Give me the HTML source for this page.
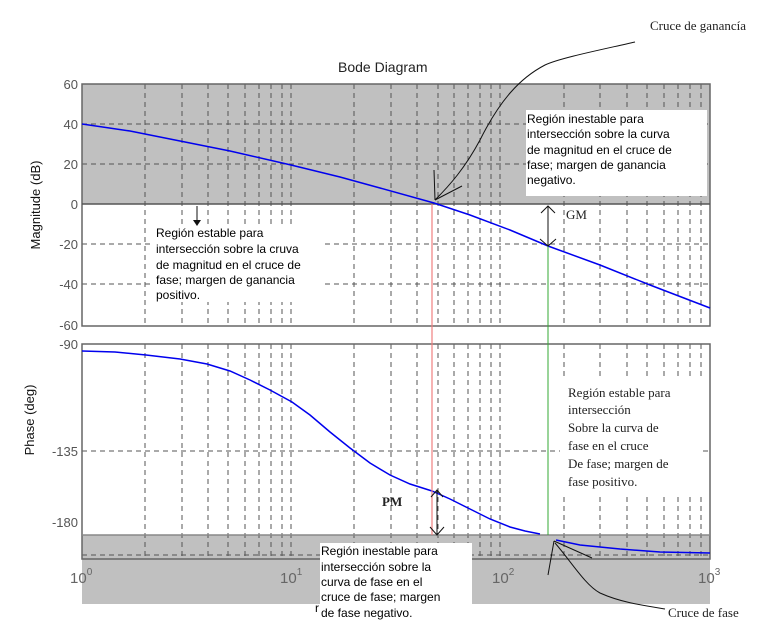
<!DOCTYPE html>
<html><head><meta charset="utf-8"><style>
html,body{margin:0;padding:0;background:#fff;width:775px;height:632px;overflow:hidden}
svg{display:block}
.t{font-family:"Liberation Sans",sans-serif;fill:#555;font-size:13px}
.b{font-family:"Liberation Sans",sans-serif;fill:#000;font-size:12px}
.s{font-family:"Liberation Serif",serif;fill:#222;font-size:13px}
</style></head><body>
<svg width="775" height="632" viewBox="0 0 775 632" xmlns="http://www.w3.org/2000/svg">
<rect x="82" y="84" width="628" height="120" fill="#c0c0c0"/>
<rect x="82" y="204" width="628" height="122" fill="#fff"/>
<g stroke="#555" stroke-width="1" stroke-dasharray="5,4" fill="none">
<path d="M82 124H710M82 164H710M82 244H710M82 284H710"/>
<path d="M145 84V326M182 84V326M208 84V326M228 84V326M245 84V326M259 84V326M271 84V326M282 84V326M291 84V326M354 84V326M391 84V326M417 84V326M438 84V326M454 84V326M468 84V326M480 84V326M491 84V326M500 84V326M564 84V326M600 84V326M627 84V326M647 84V326M664 84V326M678 84V326M690 84V326M701 84V326"/>
</g>
<rect x="82" y="84" width="628" height="242" fill="none" stroke="#666" stroke-width="1.5"/>
<line x1="82" y1="204" x2="710" y2="204" stroke="#555" stroke-width="1.5"/>
<rect x="82" y="535" width="628" height="69" fill="#c0c0c0"/>
<g stroke="#555" stroke-width="1" stroke-dasharray="5,4" fill="none">
<path d="M82 451H710M82 555H710"/>
<path d="M145 344V559M182 344V559M208 344V559M228 344V559M245 344V559M259 344V559M271 344V559M282 344V559M291 344V559M354 344V559M391 344V559M417 344V559M438 344V559M454 344V559M468 344V559M480 344V559M491 344V559M500 344V559M564 344V559M600 344V559M627 344V559M647 344V559M664 344V559M678 344V559M690 344V559M701 344V559"/>
</g>
<rect x="82" y="344" width="628" height="215" fill="none" stroke="#666" stroke-width="1.5"/>
<line x1="82" y1="535" x2="710" y2="535" stroke="#888" stroke-width="1.5"/>
<rect x="526" y="110" width="181" height="86" fill="#fff"/>
<rect x="152" y="226" width="170" height="76" fill="#fff"/>
<rect x="560" y="378" width="142" height="115" fill="#fff"/>
<rect x="320" y="543" width="152" height="63" fill="#fff"/>
<polyline fill="none" stroke="#0000ee" stroke-width="1.5" points="82,124 130,131 180,141 230,151 291,165 340,177 380,188 434,203 470,215 510,230 548,246 600,265 650,285 710,308"/>
<polyline fill="none" stroke="#0000ee" stroke-width="1.5" points="82,351 115,352 146,355 180,359 207,364 230,371 250,380 270,390 292,402 310,415 330,432 350,448 370,463 390,475 410,484 432,491 450,499 470,509 490,519 510,527 525,531 540,534"/>
<polyline fill="none" stroke="#0000ee" stroke-width="1.5" points="556,540 580,545 620,549 660,552 710,553"/>
<line x1="432" y1="204" x2="432" y2="535" stroke="#f08080" stroke-width="1.2"/>
<line x1="548" y1="246" x2="548" y2="535" stroke="#3a3" stroke-width="1"/>
<text x="338" y="72" class="t" style="fill:#222;font-size:14px">Bode Diagram</text>
<g class="t" text-anchor="end">
<text x="78" y="89">60</text><text x="78" y="129">40</text><text x="78" y="169">20</text><text x="78" y="209">0</text>
<text x="78" y="249">-20</text><text x="78" y="289">-40</text><text x="78" y="330">-60</text>
<text x="78" y="349">-90</text><text x="78" y="456">-135</text><text x="78" y="527">-180</text>
</g>
<text class="t" transform="translate(40,205) rotate(-90)" text-anchor="middle" style="fill:#111">Magnitude (dB)</text>
<text class="t" transform="translate(34,420) rotate(-90)" text-anchor="middle" style="fill:#111">Phase (deg)</text>
<g class="t" style="font-size:15px;fill:#666">
<text x="70" y="583">10<tspan dy="-8" font-size="10">0</tspan></text>
<text x="280" y="583">10<tspan dy="-8" font-size="10">1</tspan></text>
<text x="492" y="583">10<tspan dy="-8" font-size="10">2</tspan></text>
<text x="698" y="583">10<tspan dy="-8" font-size="10">3</tspan></text>
</g>
<g class="b">
<text x="527" y="123">Región inestable para</text>
<text x="527" y="138">intersección sobre la curva</text>
<text x="527" y="154">de magnitud en el cruce de</text>
<text x="527" y="169">fase; margen de ganancia</text>
<text x="527" y="184">negativo.</text>
<text x="156" y="237">Región estable para</text>
<text x="156" y="253">intersección sobre la cruva</text>
<text x="156" y="269">de magnitud en el cruce de</text>
<text x="156" y="284">fase; margen de ganancia</text>
<text x="156" y="299">positivo.</text>
<text x="321" y="555">Región inestable para</text>
<text x="321" y="571">intersección sobre la</text>
<text x="321" y="586">curva de fase en el</text>
<text x="321" y="601">cruce de fase; margen</text>
<text x="321" y="617">de fase negativo.</text>
<text x="315" y="612">r</text>
</g>
<g class="s">
<text x="568" y="397">Región estable para</text>
<text x="568" y="414">intersección</text>
<text x="568" y="432">Sobre la curva de</text>
<text x="568" y="450">fase en el cruce</text>
<text x="568" y="468">De fase; margen de</text>
<text x="568" y="486">fase positivo.</text>
<text x="650" y="30">Cruce de ganancía</text>
<text x="668" y="617">Cruce de fase</text>
<text x="566" y="219">GM</text>
<text x="382" y="506" style="font-weight:bold">PM</text>
</g>
<g stroke="#111" stroke-width="1" fill="none">
<path d="M635 42 C600 50 560 58 545 65 C520 78 500 100 480 140 C465 168 450 185 435 200"/>
<path d="M435 200 L434 170 M435 200 L462 186"/>
<path d="M548 206 V246 M541 213 L548 206 L555 213 M540 239 L548 246 L556 239"/>
<path d="M437 490 V535 M431 497 L437 490 L443 497 M430 527 L437 535 L444 527"/>
<path d="M554 541 L548 575 M554 541 L592 558 M555 543 C570 560 585 585 600 593 C620 602 640 605 665 609"/>
<path d="M197 206 V224"/>
</g>
<path d="M193 220 L197 226 L201 220Z" fill="#111"/>
</svg>
</body></html>
